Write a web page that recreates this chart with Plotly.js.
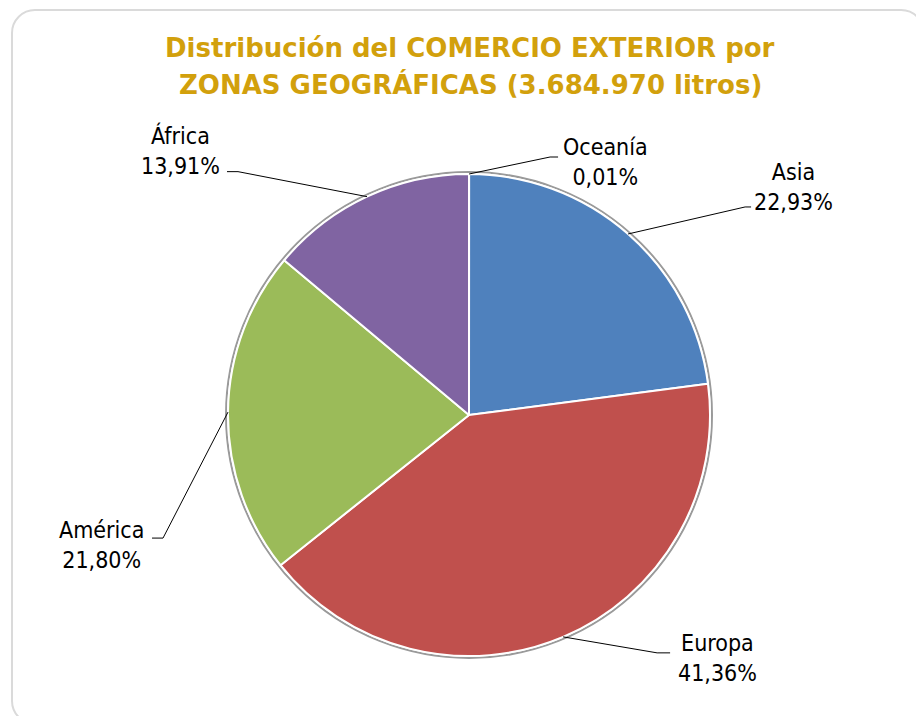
<!DOCTYPE html>
<html>
<head>
<meta charset="utf-8">
<script src="https://cdn.plot.ly/plotly-3.0.1.min.js"></script>
<style>
  html, body { margin: 0; padding: 0; background: #ffffff; overflow: hidden; }
  #card { position: absolute; left: 11px; top: 9px; width: 914px; height: 716px;
          border: 2px solid #dadada; border-radius: 24px; box-sizing: border-box; background: #fff; }
  #chart { position: absolute; left: 0; top: 0; width: 916px; height: 716px; }
</style>
</head>
<body>
<div id="card"></div>
<div id="chart"></div>
<script>
// ---- data ----
const zones = ['Oceanía', 'Asia', 'Europa', 'América', 'África'];
const shares = [0.01, 22.93, 41.36, 21.80, 13.91];
const zoneColors = ['#4BACC6', '#4F81BD', '#C0504D', '#9BBB59', '#8064A2'];
const titleLines = ['Distribución del COMERCIO EXTERIOR por', 'ZONAS GEOGRÁFICAS (3.684.970 litros)'];

// ---- layout config (label placement relative to the slice anchor, in px) ----
const W = 916, H = 716;
const pieCenterPx = [469, 415];
const pieRadiusPx = 241;
const labelCfg = {
  'Oceanía': { elbow: [81, -17], tick: 8,   gap: 3, dy: 5 },
  'Asia':    { elbow: [117, -27], tick: 6,  gap: 1, dy: -20 },
  'Europa':  { elbow: [94, 16], tick: 13,   gap: 6, dy: 5 },
  'América': { elbow: [-65, 126], tick: -11, gap: 6, dy: 7 },
  'África':  { elbow: [-129, -25], tick: -11, gap: 5, dy: -21 }
};
const labelFont = { family: '"DejaVu Sans Condensed", "DejaVu Sans", sans-serif', size: 23, color: '#000000' };
const titleFont = { family: '"DejaVu Sans", sans-serif', size: 26, color: '#D2A00C', weight: 'bold' };
const titleLineCentersPx = [48, 85];

const px2x = p => p / W;
const py2y = p => 1 - p / H;

const domain = {
  x: [px2x(pieCenterPx[0] - pieRadiusPx), px2x(pieCenterPx[0] + pieRadiusPx)],
  y: [py2y(pieCenterPx[1] + pieRadiusPx), py2y(pieCenterPx[1] - pieRadiusPx)]
};

const trace = {
  type: 'pie',
  labels: zones,
  values: shares,
  sort: false,
  direction: 'clockwise',
  rotation: 0,
  textinfo: 'none',
  hoverinfo: 'label+percent',
  marker: { colors: zoneColors, line: { color: '#ffffff', width: 2 } },
  domain: domain,
  showlegend: false
};

// leader lines and labels computed from slice mid-angles
const total = shares.reduce((a, b) => a + b, 0);
const shapes = [{
  type: 'circle', xref: 'paper', yref: 'paper', layer: 'below',
  x0: px2x(pieCenterPx[0] - pieRadiusPx - 2), x1: px2x(pieCenterPx[0] + pieRadiusPx + 2),
  y0: py2y(pieCenterPx[1] + pieRadiusPx + 2), y1: py2y(pieCenterPx[1] - pieRadiusPx - 2),
  line: { color: '#9a9a9a', width: 2 }, fillcolor: 'rgba(0,0,0,0)'
}];
const annotations = [];
let cum = 0;
zones.forEach((z, i) => {
  const mid = (cum + shares[i] / 2) / total * 2 * Math.PI;
  cum += shares[i];
  const ex = pieCenterPx[0] + pieRadiusPx * Math.sin(mid);
  const ey = pieCenterPx[1] - pieRadiusPx * Math.cos(mid);
  const c = labelCfg[z];
  const bx = ex + c.elbow[0], by = ey + c.elbow[1];
  const tx = bx + c.tick;
  shapes.push({
    type: 'path', xref: 'paper', yref: 'paper',
    path: `M ${px2x(ex)} ${py2y(ey)} L ${px2x(bx)} ${py2y(by)} L ${px2x(tx)} ${py2y(by)}`,
    line: { color: '#000000', width: 1 }
  });
  const right = c.tick > 0;
  annotations.push({
    xref: 'paper', yref: 'paper',
    x: px2x(tx + (right ? c.gap : -c.gap)), y: py2y(by + c.dy),
    xanchor: right ? 'left' : 'right', yanchor: 'middle', align: 'center',
    text: z + '<br>' + shares[i].toFixed(2).replace('.', ',') + '%',
    showarrow: false, font: labelFont
  });
});

// chart title lines as paper annotations (precise placement)
titleLines.forEach((t, k) => {
  annotations.push({
    xref: 'paper', yref: 'paper',
    x: px2x(470), y: py2y(titleLineCentersPx[k]), xanchor: 'center', yanchor: 'middle',
    text: t, showarrow: false, font: titleFont
  });
});

const layout = {
  width: W, height: H,
  margin: { l: 0, r: 0, t: 0, b: 0 },
  paper_bgcolor: 'rgba(0,0,0,0)',
  plot_bgcolor: 'rgba(0,0,0,0)',
  shapes: shapes,
  annotations: annotations
};

Plotly.newPlot('chart', [trace], layout, { displayModeBar: false, staticPlot: true });
</script>
</body>
</html>
